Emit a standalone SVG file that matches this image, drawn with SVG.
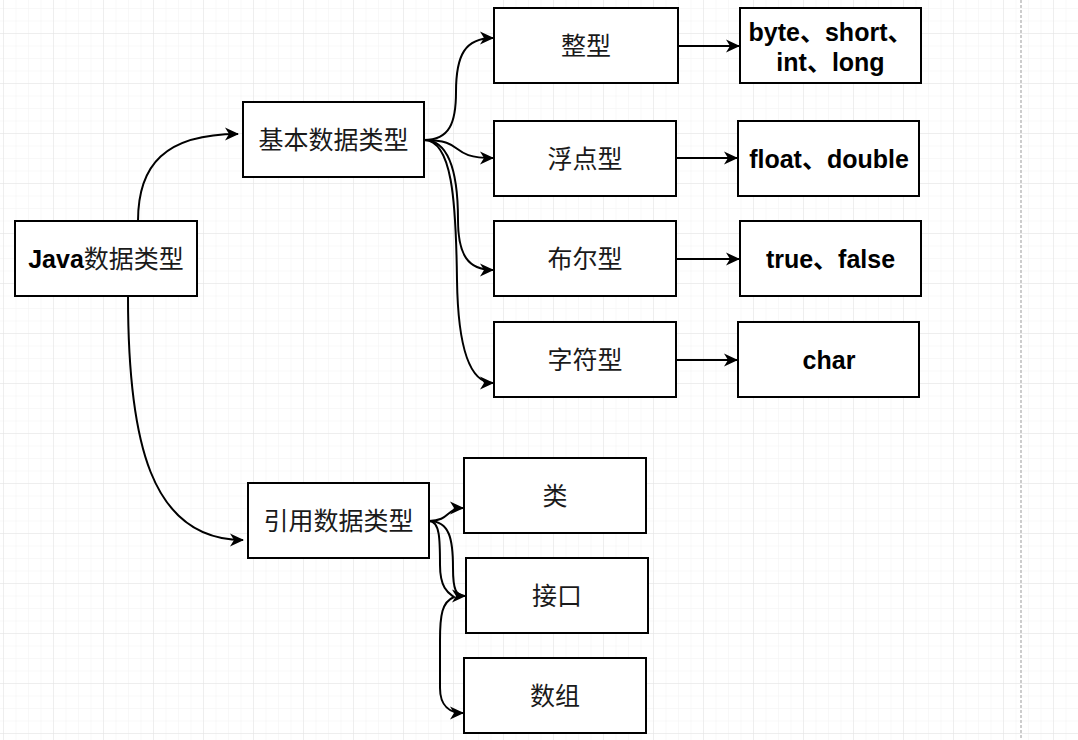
<svg xmlns="http://www.w3.org/2000/svg" width="1078" height="740" viewBox="0 0 1078 740">
<defs>
<pattern id="minor" width="12.5" height="12.5" x="3" y="33" patternUnits="userSpaceOnUse">
<path d="M0,0 H12.5 M0,0 V12.5" fill="none" stroke="#f2f2f2" stroke-width="1"/>
</pattern>
<pattern id="major" width="50" height="50" x="3" y="33" patternUnits="userSpaceOnUse">
<path d="M0,0 H50 M0,0 V50" fill="none" stroke="#e3e3e3" stroke-width="1"/>
</pattern>
<marker id="arrow" markerUnits="userSpaceOnUse" markerWidth="16" markerHeight="14" refX="13" refY="6.5" orient="auto" overflow="visible">
<path d="M0,0 L14,6.5 L0,13 L4,6.5 Z" fill="#000"/>
</marker>
<style>
.box{fill:#fff;stroke:#000;stroke-width:2}
.t{font-family:"Liberation Sans","Noto Sans CJK SC",sans-serif;font-size:25px;fill:#1a1a1a;text-anchor:middle}
.b{font-weight:bold;fill:#000}
.e{fill:none;stroke:#000;stroke-width:2;marker-end:url(#arrow)}
</style>
</defs>
<rect width="1078" height="740" fill="#fff"/>
<rect width="1078" height="740" fill="url(#minor)"/>
<rect width="1078" height="740" fill="url(#major)"/>
<line x1="1021" y1="0" x2="1021" y2="740" stroke="#bdbdbd" stroke-width="1.5" stroke-dasharray="3 2"/>

<g id="connectors">
<path class="e" d="M138,221 C138,165 165,134 238,134"/>
<path class="e" d="M128,296 C128,440 150,540 243,540"/>
<path class="e" d="M424,140 C450,140 456,122 456,92 C456,55 465,38 493,38"/>
<path class="e" d="M424,140 C468,140 446,158 493,158"/>
<path class="e" d="M424,140 C452,140 458,180 458,220 C458,255 468,270 493,270"/>
<path class="e" d="M424,140 C452,140 456,200 457,280 C458,350 470,383 493,383"/>
<path class="e" d="M678,46 L739,46"/>
<path class="e" d="M676,158 L737,158"/>
<path class="e" d="M676,259 L739,259"/>
<path class="e" d="M676,360 L737,360"/>
<path class="e" d="M429,521 C450,521 446,508 463,508"/>
<path class="e" d="M429,521 C450,521 453,540 453,568 C453,590 456,596 465,596"/>
<path class="e" d="M429,521 C440,521 440,540 440,565 C440,590 450,594 454,597 C442,602 440,615 440,640 L440,688 C440,706 450,713 463,713"/>
</g>

<g id="n-java"><rect class="box" x="15" y="221" width="182" height="75"/><text class="t" x="106" y="268"><tspan class="b">Java</tspan>数据类型</text></g>
<g id="n-basic"><rect class="box" x="243" y="102" width="181" height="75"/><text class="t" x="333.5" y="149">基本数据类型</text></g>
<g id="n-int"><rect class="box" x="494" y="8" width="184" height="75"/><text class="t" x="586" y="55">整型</text></g>
<g id="n-intv"><rect class="box" x="740" y="8" width="181" height="75"/><text class="t b" x="830.5" y="41">byte、short、</text><text class="t b" x="830.5" y="71">int、long</text></g>
<g id="n-float"><rect class="box" x="494" y="121" width="182" height="75"/><text class="t" x="585" y="168">浮点型</text></g>
<g id="n-floatv"><rect class="box" x="738" y="121" width="181" height="75"/><text class="t b" x="829" y="168">float、double</text></g>
<g id="n-bool"><rect class="box" x="494" y="221" width="182" height="75"/><text class="t" x="585" y="268">布尔型</text></g>
<g id="n-boolv"><rect class="box" x="740" y="221" width="181" height="75"/><text class="t b" x="830.5" y="268">true、false</text></g>
<g id="n-char"><rect class="box" x="494" y="322" width="182" height="75"/><text class="t" x="585" y="369">字符型</text></g>
<g id="n-charv"><rect class="box" x="738" y="322" width="181" height="75"/><text class="t b" x="829" y="369">char</text></g>
<g id="n-ref"><rect class="box" x="248" y="483" width="181" height="75"/><text class="t" x="338.5" y="530">引用数据类型</text></g>
<g id="n-class"><rect class="box" x="464" y="458" width="182" height="75"/><text class="t" x="555" y="505">类</text></g>
<g id="n-iface"><rect class="box" x="466" y="558" width="182" height="75"/><text class="t" x="557" y="605">接口</text></g>
<g id="n-array"><rect class="box" x="464" y="658" width="182" height="75"/><text class="t" x="555" y="705">数组</text></g>
</svg>
